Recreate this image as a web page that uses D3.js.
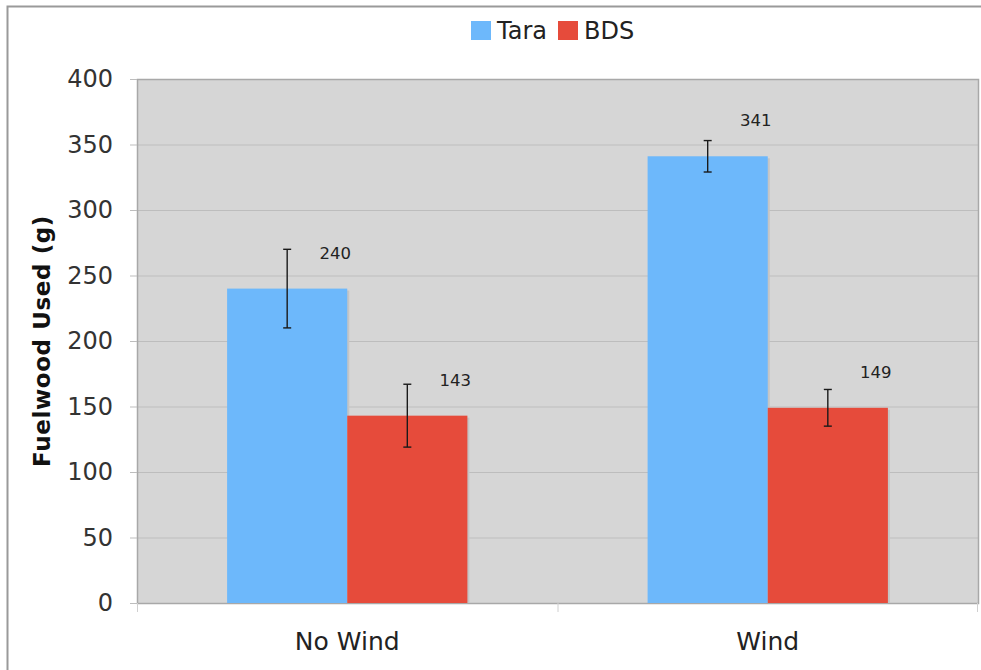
<!DOCTYPE html>
<html>
<head>
<meta charset="utf-8">
<script src="https://cdn.jsdelivr.net/npm/d3@7"></script>
<style>
  body { margin: 0; background: #fff; }
  svg { display: block; }
</style>
</head>
<body>
<div class="chart"></div>
<script>
const width = 981
const height = 670

// data
const categories = ['No Wind', 'Wind']
const seriesNames = ['Tara', 'BDS']
const taraValues = [240, 341]
const bdsValues = [143, 149]
const taraErrors = [30, 12]
const bdsErrors = [24, 14]
const yTicks = [0, 50, 100, 150, 200, 250, 300, 350, 400]
const colors = ['#6db8fb', '#e64b3b']

const margin = ({top: 79, right: 3, bottom: 67, left: 137})

const svg = d3.select('.chart').append('svg')
    .attr('width', width)
    .attr('height', height)
    .attr('viewBox', [0, 0, width, height])

// outer frame
svg.append('rect')
    .attr('x', 7.5).attr('y', 6.5)
    .attr('width', width + 10).attr('height', height + 10)
    .attr('fill', '#fff')
    .attr('stroke', '#9a9a9a')
    .attr('stroke-width', 2)

const x0 = d3.scaleBand()
    .domain(categories)
    .range([margin.left, width - margin.right])

const x1 = d3.scaleBand()
    .domain(seriesNames)
    .range([0, x0.bandwidth()])
    .paddingOuter(0.75)

const y = d3.scaleLinear()
    .domain([0, 400])
    .range([height - margin.bottom, margin.top])

// plot background
svg.append('rect')
    .attr('x', margin.left)
    .attr('y', margin.top)
    .attr('width', width - margin.left - margin.right)
    .attr('height', y(0) - margin.top)
    .attr('fill', '#d6d6d6')

// gridlines
svg.append('g')
    .selectAll('line')
    .data(yTicks.filter(d => d > 0 && d < 400))
    .join('line')
    .attr('x1', margin.left)
    .attr('x2', width - margin.right)
    .attr('y1', d => y(d) + 0.5)
    .attr('y2', d => y(d) + 0.5)
    .attr('stroke', '#bdbdbd')
    .attr('stroke-width', 1.2)

// plot border
svg.append('rect')
    .attr('x', margin.left + 0.5)
    .attr('y', margin.top + 0.5)
    .attr('width', width - margin.left - margin.right)
    .attr('height', y(0) - margin.top)
    .attr('fill', 'none')
    .attr('stroke', '#a8a8a8')
    .attr('stroke-width', 1.5)

// y axis
const yAxis = svg.append('g')
    .attr('transform', `translate(${margin.left},0)`)
    .call(d3.axisLeft(y).tickValues(yTicks).tickSize(7).tickPadding(17))
yAxis.select('.domain').remove()
yAxis.selectAll('line').attr('stroke', '#bdbdbd')
yAxis.selectAll('text')
    .attr('font-family', 'DejaVu Sans')
    .attr('font-size', 24)
    .attr('fill', '#333')

// x axis ticks (between categories)
const xEdges = [margin.left, x0('Wind'), width - margin.right - 1]
svg.append('g')
    .selectAll('line')
    .data(xEdges)
    .join('line')
    .attr('x1', d => d + 0.5).attr('x2', d => d + 0.5)
    .attr('y1', y(0)).attr('y2', y(0) + 9)
    .attr('stroke', '#d0d0d0')

svg.append('g')
    .selectAll('text')
    .data(categories)
    .join('text')
    .attr('x', d => x0(d) + x0.bandwidth() / 2)
    .attr('y', 650)
    .attr('text-anchor', 'middle')
    .attr('font-family', 'DejaVu Sans')
    .attr('font-size', 25)
    .attr('fill', '#222')
    .text(d => d)

// bars
const rows = categories.map((c, i) => ({
    cat: c,
    vals: [
        {name: 'Tara', value: taraValues[i], err: taraErrors[i]},
        {name: 'BDS', value: bdsValues[i], err: bdsErrors[i]}
    ]
}))

const groups = svg.append('g')
    .selectAll('g')
    .data(rows)
    .join('g')
    .attr('transform', d => `translate(${x0(d.cat)},0)`)

// soft shadow
groups.selectAll('rect.shadow')
    .data(d => d.vals)
    .join('rect')
    .attr('class', 'shadow')
    .attr('x', d => x1(d.name) + 2)
    .attr('y', d => y(d.value) + 2)
    .attr('width', x1.bandwidth())
    .attr('height', d => y(0) - y(d.value) - 2)
    .attr('fill', '#c4c4c4')

groups.selectAll('rect.bar')
    .data(d => d.vals)
    .join('rect')
    .attr('class', 'bar')
    .attr('x', d => x1(d.name))
    .attr('y', d => y(d.value))
    .attr('width', x1.bandwidth())
    .attr('height', d => y(0) - y(d.value))
    .attr('fill', (d, i) => colors[i])

// error bars
const eb = groups.selectAll('g.err')
    .data(d => d.vals)
    .join('g')
    .attr('class', 'err')
    .attr('transform', d => `translate(${x1(d.name) + x1.bandwidth() / 2},0)`)
eb.append('line')
    .attr('x1', 0).attr('x2', 0)
    .attr('y1', d => y(d.value + d.err))
    .attr('y2', d => y(d.value - d.err))
eb.append('line')
    .attr('x1', -4).attr('x2', 4)
    .attr('y1', d => y(d.value + d.err))
    .attr('y2', d => y(d.value + d.err))
eb.append('line')
    .attr('x1', -4).attr('x2', 4)
    .attr('y1', d => y(d.value - d.err))
    .attr('y2', d => y(d.value - d.err))
eb.selectAll('line')
    .attr('stroke', '#1a1a1a')
    .attr('stroke-width', 1.4)

// value labels
groups.selectAll('text')
    .data(d => d.vals)
    .join('text')
    .attr('x', d => x1(d.name) + x1.bandwidth() / 2 + 48)
    .attr('y', d => y(d.value) - 30)
    .attr('text-anchor', 'middle')
    .attr('font-family', 'DejaVu Sans')
    .attr('font-size', 16.5)
    .attr('fill', '#222')
    .text(d => d.value)

// y title
svg.append('text')
    .attr('transform', `translate(50,${(margin.top + y(0)) / 2}) rotate(-90)`)
    .attr('text-anchor', 'middle')
    .attr('font-family', 'DejaVu Sans')
    .attr('font-weight', 'bold')
    .attr('font-size', 23)
    .attr('letter-spacing', 0.6)
    .attr('fill', '#111')
    .text('Fuelwood Used (g)')

// legend
const legend = svg.append('g')
const legX = [471, 558]
legend.selectAll('rect')
    .data(seriesNames)
    .join('rect')
    .attr('x', (d, i) => legX[i])
    .attr('y', 21)
    .attr('width', 20)
    .attr('height', 19)
    .attr('fill', (d, i) => colors[i])
legend.selectAll('text')
    .data(seriesNames)
    .join('text')
    .attr('x', (d, i) => legX[i] + 26)
    .attr('y', 39)
    .attr('font-family', 'DejaVu Sans')
    .attr('font-size', 24)
    .attr('fill', '#222')
    .text(d => d)
</script>
</body>
</html>
